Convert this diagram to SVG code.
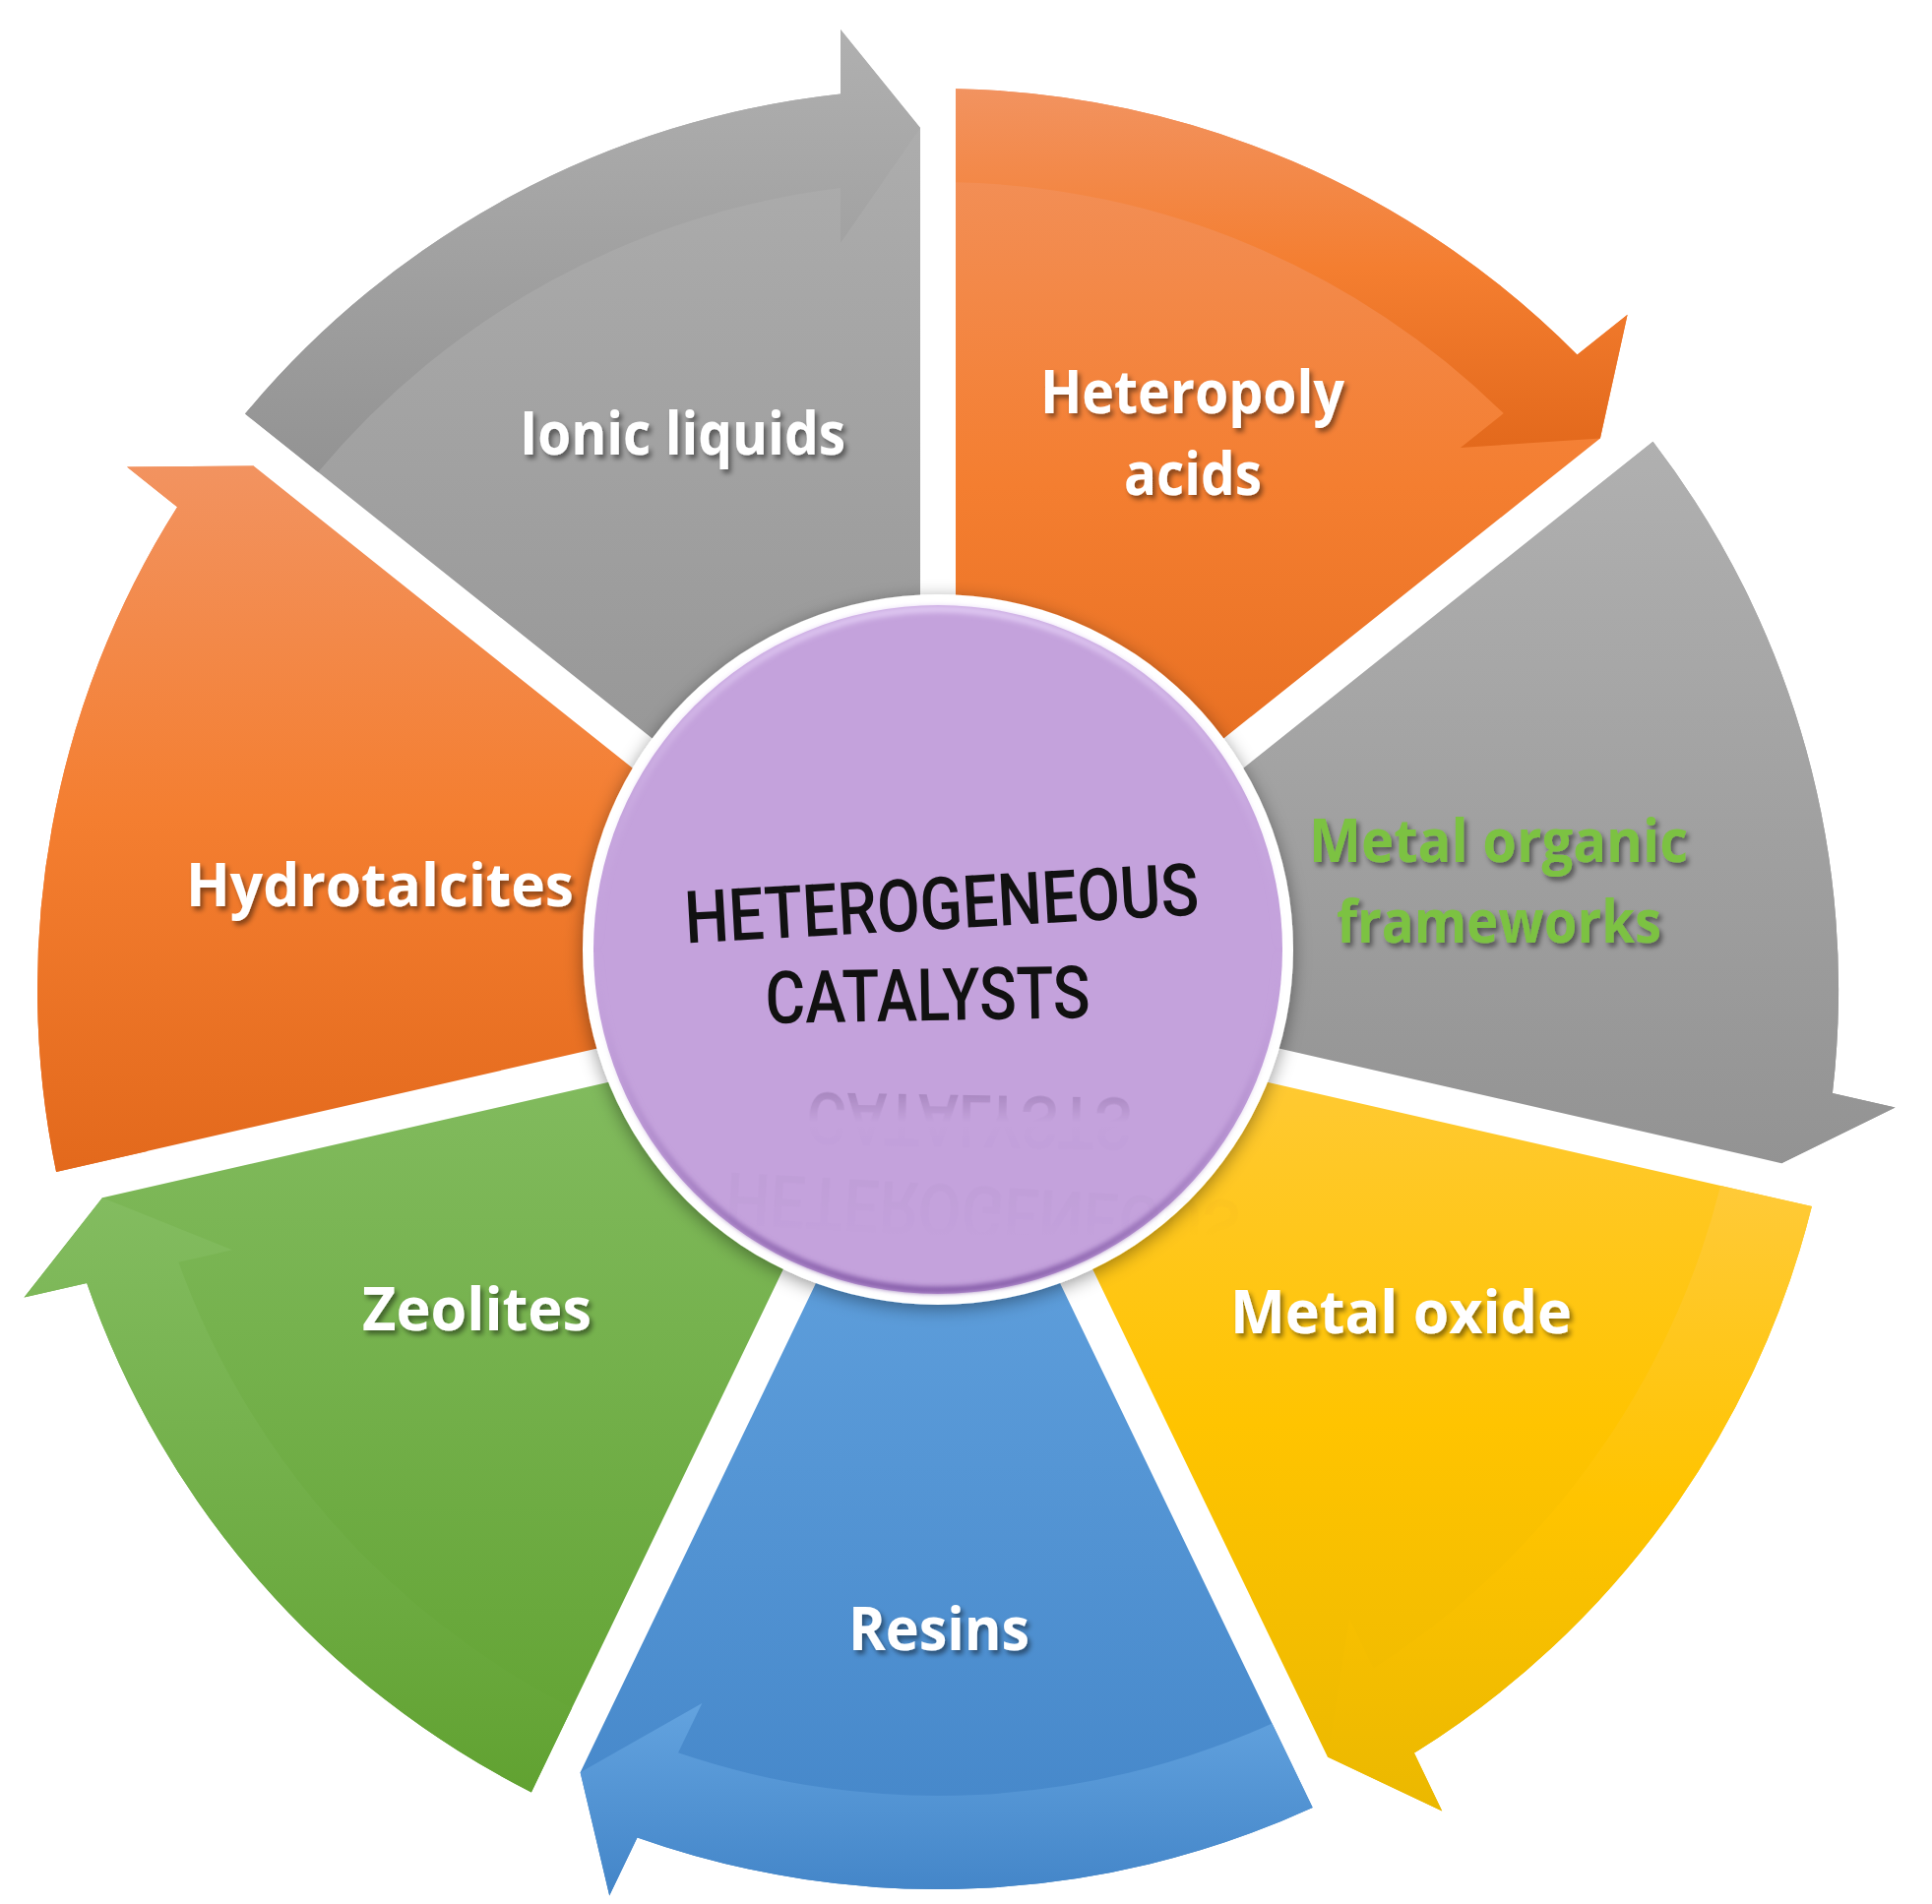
<svg xmlns="http://www.w3.org/2000/svg" width="1963" height="1935" viewBox="0 0 1963 1935">
<defs>
<style>
.lbl{font-family:"Open Sans","Noto Sans","DejaVu Sans",sans-serif;font-weight:700;font-size:60px;fill:#ffffff;filter:url(#ts)}
.mof{fill:#7cc242}
.ctr{font-family:Roboto,"Liberation Sans",sans-serif;font-weight:500;font-size:74px;fill:#111111}
.rfl{fill:#3a2050}
</style>
<linearGradient id="gOr" x1="0" y1="0" x2="0" y2="1"><stop offset="0" stop-color="#f29360"/><stop offset="0.5" stop-color="#f47e30"/><stop offset="1" stop-color="#e3691c"/></linearGradient>
<linearGradient id="gGr" x1="0" y1="0" x2="0" y2="1"><stop offset="0" stop-color="#b0b0b0"/><stop offset="1" stop-color="#939393"/></linearGradient>
<linearGradient id="gYe" x1="0" y1="0" x2="0" y2="1"><stop offset="0" stop-color="#ffca38"/><stop offset="0.5" stop-color="#ffc400"/><stop offset="1" stop-color="#ebb800"/></linearGradient>
<linearGradient id="gBl" x1="0" y1="0" x2="0" y2="1"><stop offset="0" stop-color="#63a3df"/><stop offset="1" stop-color="#4385c8"/></linearGradient>
<linearGradient id="gGn" x1="0" y1="0" x2="0" y2="1"><stop offset="0" stop-color="#83bc60"/><stop offset="1" stop-color="#61a231"/></linearGradient>
<linearGradient id="rim" x1="0" y1="0" x2="0" y2="1"><stop offset="0" stop-color="#e2ccf4" stop-opacity="0.9"/><stop offset="0.5" stop-color="#c4a2dc" stop-opacity="0"/><stop offset="1" stop-color="#8258a6" stop-opacity="0.95"/></linearGradient>
<linearGradient id="fadeGrad" gradientUnits="userSpaceOnUse" x1="0" y1="1110" x2="0" y2="1260"><stop offset="0" stop-color="#fff" stop-opacity="0.2"/><stop offset="0.2" stop-color="#fff" stop-opacity="0"/><stop offset="0.6" stop-color="#fff" stop-opacity="0.025"/><stop offset="1" stop-color="#fff" stop-opacity="0"/></linearGradient>
<mask id="fade" maskUnits="userSpaceOnUse" x="600" y="1080" width="750" height="220"><rect x="600" y="1080" width="750" height="220" fill="url(#fadeGrad)"/></mask>
<filter id="ts" x="-10%" y="-30%" width="120%" height="160%"><feDropShadow dx="3" dy="4" stdDeviation="2.5" flood-color="#000" flood-opacity="0.45"/></filter>
<filter id="cs" x="-20%" y="-20%" width="140%" height="140%"><feDropShadow dx="0" dy="4" stdDeviation="9" flood-color="#000" flood-opacity="0.4"/></filter>
<filter id="bl" x="-5%" y="-5%" width="110%" height="110%"><feGaussianBlur stdDeviation="2.5"/></filter>
</defs>
<rect width="1963" height="1935" fill="#ffffff"/>

<g id="heteropoly-acids">
<path fill="url(#gOr)" d="M971 855 L971 90.2 A915 915 0 0 1 1602.5 360.5 L1653.6 319.7 L1625.9 445.4 L1059.1 897.4 Z"/>
<path fill="url(#gOr)" d="M971 90.2 A915 915 0 0 1 1602.5 360.5 L1653.6 319.7 L1625.9 445.4 L1483.9 455 L1527.7 420.1 A820 820 0 0 0 971 185.2 Z"/>
<text class="lbl" x="1057" y="420" textLength="309" lengthAdjust="spacingAndGlyphs">Heteropoly</text>
<text class="lbl" x="1142" y="503" textLength="140" lengthAdjust="spacingAndGlyphs">acids</text>
</g>

<g id="metal-organic-frameworks">
<path fill="url(#gGr)" d="M1081.5 925.6 L1679.5 448.7 A915 915 0 0 1 1861.9 1110.9 L1925.6 1125.4 L1810.1 1182.2 L1103.3 1020.8 Z"/>
<path fill="url(#gGr)" d="M1679.5 448.7 A915 915 0 0 1 1861.9 1110.9 L1925.6 1125.4 L1810.1 1182.2 L1714 1077.2 L1768.6 1089.6 A820 820 0 0 0 1605.2 507.9 Z"/>
<text class="lbl mof" x="1330" y="876" textLength="385" lengthAdjust="spacingAndGlyphs">Metal organic</text>
<text class="lbl mof" x="1358" y="958" textLength="330" lengthAdjust="spacingAndGlyphs">frameworks</text>
</g>

<g id="metal-oxide">
<path fill="url(#gYe)" d="M1095.2 1055.9 L1840.9 1226.1 A915 915 0 0 1 1436.9 1781.6 L1465.2 1840.5 L1348.9 1785.5 L1034.3 1132.3 Z"/>
<path fill="url(#gYe)" d="M1840.9 1226.1 A915 915 0 0 1 1436.9 1781.6 L1465.2 1840.5 L1348.9 1785.5 L1371.1 1645 L1395.4 1695.4 A820 820 0 0 0 1748.2 1205 Z"/>
<text class="lbl" x="1250" y="1355" textLength="347" lengthAdjust="spacingAndGlyphs">Metal oxide</text>
</g>

<g id="resins">
<path fill="url(#gBl)" d="M1001.9 1148 L1333.7 1837 A915 915 0 0 1 647.5 1867.5 L619.2 1926.4 L589.6 1801.2 L904.1 1148 Z"/>
<path fill="url(#gBl)" d="M1333.7 1837 A915 915 0 0 1 647.5 1867.5 L619.2 1926.4 L589.6 1801.2 L713.3 1730.9 L689 1781.3 A820 820 0 0 0 1292.5 1751.4 Z"/>
<text class="lbl" x="862" y="1677" textLength="184" lengthAdjust="spacingAndGlyphs">Resins</text>
</g>

<g id="zeolites">
<path fill="url(#gGn)" d="M871.7 1132.3 L539.9 1821.4 A915 915 0 0 1 88.2 1303.9 L24.5 1318.5 L104 1217.3 L810.8 1055.9 Z"/>
<path fill="url(#gGn)" d="M539.9 1821.4 A915 915 0 0 1 88.2 1303.9 L24.5 1318.5 L104 1217.3 L236 1270.2 L181.4 1282.7 A820 820 0 0 0 581.1 1735.8 Z"/>
<text class="lbl" x="368" y="1352" textLength="233" lengthAdjust="spacingAndGlyphs">Zeolites</text>
</g>

<g id="hydrotalcites">
<path fill="url(#gOr)" d="M802.8 1020.8 L57.1 1191 A915 915 0 0 1 180.1 515.3 L129 474.5 L257.7 473.5 L824.5 925.6 Z"/>
<path fill="url(#gOr)" d="M57.1 1191 A915 915 0 0 1 180.1 515.3 L129 474.5 L257.7 473.5 L298.6 609.8 L254.9 574.9 A820 820 0 0 0 149.7 1169.9 Z"/>
<text class="lbl" x="189" y="921" textLength="394" lengthAdjust="spacingAndGlyphs">Hydrotalcites</text>
</g>

<g id="ionic-liquids">
<path fill="url(#gGr)" d="M847 897.4 L249 420.6 A915 915 0 0 1 854 95.4 L854 30 L935 130 L935 855 Z"/>
<path fill="url(#gGr)" d="M249 420.6 A915 915 0 0 1 854 95.4 L854 30 L935 130 L854 247 L854 191 A820 820 0 0 0 323.3 479.8 Z"/>
<text class="lbl" x="528" y="462" textLength="331" lengthAdjust="spacingAndGlyphs">Ionic liquids</text>
</g>

<g id="heterogeneous-catalysts">
<circle cx="953" cy="965" r="361" fill="#ffffff" filter="url(#cs)"/>
<circle cx="953" cy="965" r="350" fill="#c4a2dc"/>
<circle cx="953" cy="965" r="346" fill="none" stroke="url(#rim)" stroke-width="7" filter="url(#bl)"/>
<text class="ctr" transform="translate(958,944) rotate(-3.2)" text-anchor="middle" textLength="523" lengthAdjust="spacingAndGlyphs">HETEROGENEOUS</text>
<text class="ctr" transform="translate(943,1037) rotate(-1)" text-anchor="middle" textLength="330" lengthAdjust="spacingAndGlyphs">CATALYSTS</text>
<g mask="url(#fade)">
<g transform="translate(42,2150) scale(1,-1)">
<text class="ctr rfl" transform="translate(958,944) rotate(-3.2)" text-anchor="middle" textLength="523" lengthAdjust="spacingAndGlyphs">HETEROGENEOUS</text>
<text class="ctr rfl" transform="translate(943,1037) rotate(-1)" text-anchor="middle" textLength="330" lengthAdjust="spacingAndGlyphs">CATALYSTS</text>
</g>
</g>
</g>
</svg>
